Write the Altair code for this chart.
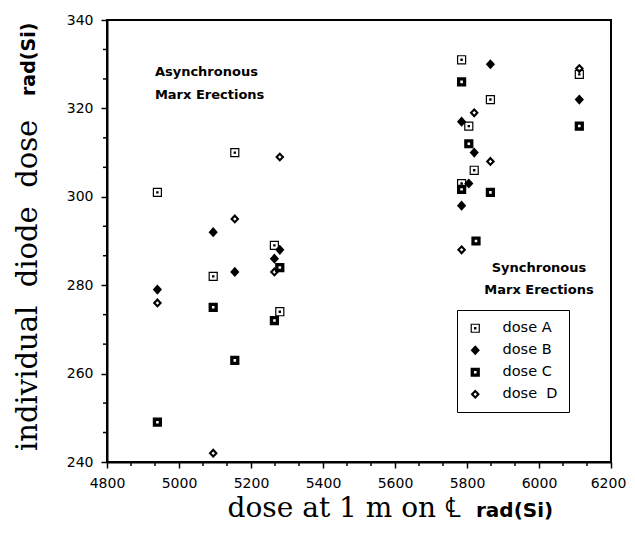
import altair as alt
import pandas as pd

# ---- data ----
doseA_x = [4940, 5095, 5155, 5265, 5280, 5785, 5865, 5805, 5820, 5785, 6112]
doseA_y = [301, 282, 310, 289, 274, 331, 322, 316, 306, 303, 327.7]
doseB_x = [4940, 5095, 5155, 5280, 5265, 5865, 5785, 5820, 5805, 5785, 6112]
doseB_y = [279, 292, 283, 288, 286, 330, 317, 310, 303, 298, 322]
doseC_x = [4940, 5095, 5155, 5280, 5265, 5785, 5805, 5785, 5865, 5825, 6112]
doseC_y = [249, 275, 263, 284, 272, 326, 312, 301.7, 301, 290, 316]
doseD_x = [4940, 5095, 5155, 5280, 5265, 5820, 5865, 5785, 6112]
doseD_y = [276, 242, 295, 309, 283, 319, 308, 288, 329]

series_names = ["dose A", "dose B", "dose C", "dose\u00a0 D"]

x_major = [4800, 5000, 5200, 5400, 5600, 5800, 6000, 6200]
y_major = [240, 260, 280, 300, 320, 340]
x_minor = [v + d for v in x_major[:-1] for d in (200 / 3, 400 / 3)]
y_minor = [v + d for v in y_major[:-1] for d in (20 / 3, 40 / 3)]

notes_text = ["Asynchronous", "Marx Erections", "Synchronous", "Marx Erections"]
notes_x = [4933, 4933, 6000, 6000]
notes_y = [328.2, 323.0, 284.0, 279.0]
notes_align = ["left", "left", "center", "center"]

# ---- build table ----
rows = []
for name, xs, ys in zip(series_names,
                        [doseA_x, doseB_x, doseC_x, doseD_x],
                        [doseA_y, doseB_y, doseC_y, doseD_y]):
    for a, b in zip(xs, ys):
        rows.append({"dose": name, "x": a, "y": b})
df = pd.DataFrame(rows)
notes = pd.DataFrame({"t": notes_text, "x": notes_x, "y": notes_y, "al": notes_align})
xm = pd.DataFrame({"v": x_minor})
ym = pd.DataFrame({"v": y_minor})

# custom symbol paths (unit square [-1,1])
shapeA = "M-1,-1H1V1H-1Z M-0.74,-0.74V0.74H0.74V-0.74Z M-0.26,-0.26H0.26V0.26H-0.26Z"
shapeB = "M0,-1.1L1,0L0,1.1L-1,0Z"
shapeC = "M-1,-1H1V1H-1Z M-0.28,-0.28V0.28H0.28V-0.28Z"
shapeD = "M0,-1.05L1,0L0,1.05L-1,0Z M0,-0.38L-0.38,0L0,0.38L0.38,0Z"

xscale = alt.Scale(domain=[4800, 6200], nice=False, zero=False)
yscale = alt.Scale(domain=[240, 340], nice=False, zero=False)

x_axis = alt.Axis(values=x_major, format="d", tickSize=6, labelPadding=8,
                  labelOffset={"condition": {"test": "datum.value >= 6200", "value": -3}, "value": 0},
                  labelOverlap=False, labelFlush=False, grid=False, title="")
y_axis = alt.Axis(values=y_major, format="d", tickSize=6, labelPadding=8,
                  labelOverlap=False, labelFlush=False, grid=False, title="")

points = alt.Chart(df).mark_point(filled=True, opacity=1, size=85, strokeWidth=0).encode(
    x=alt.X("x:Q", scale=xscale, axis=x_axis),
    y=alt.Y("y:Q", scale=yscale, axis=y_axis),
    shape=alt.Shape("dose:N",
                    scale=alt.Scale(domain=series_names, range=[shapeA, shapeB, shapeC, shapeD]),
                    legend=alt.Legend(title=None, orient="none", legendX=350, legendY=290,
                                      strokeColor="black", padding=11, labelFont="DejaVu Sans",
                                      labelFontSize=14.5, labelColor="black", symbolSize=85,
                                      symbolFillColor="black", symbolStrokeWidth=0,
                                      labelOffset=20, rowPadding=7)),
    color=alt.value("black"),
)

xminor_marks = alt.Chart(xm).mark_rule(color="black", strokeWidth=1.5).encode(
    x=alt.X("v:Q", scale=xscale), y=alt.value(442), y2=alt.value(446))
yminor_marks = alt.Chart(ym).mark_rule(color="black", strokeWidth=1.5).encode(
    y=alt.Y("v:Q", scale=yscale), x=alt.value(0), x2=alt.value(-4))

note_left = alt.Chart(notes[notes.al == "left"]).mark_text(
    font="DejaVu Sans", fontWeight="bold", fontSize=13, baseline="middle", align="left",
    color="black").encode(x=alt.X("x:Q", scale=xscale), y=alt.Y("y:Q", scale=yscale), text="t:N")
note_center = alt.Chart(notes[notes.al == "center"]).mark_text(
    font="DejaVu Sans", fontWeight="bold", fontSize=13, baseline="middle", align="center",
    color="black").encode(x=alt.X("x:Q", scale=xscale), y=alt.Y("y:Q", scale=yscale), text="t:N")

one = pd.DataFrame({"k": [0]})
xt1 = alt.Chart(one).mark_text(font="DejaVu Serif", fontSize=28, align="right",
                               baseline="alphabetic", color="black").encode(
    x=alt.value(354), y=alt.value(497), text=alt.value("dose at 1 m on \u2104"))
xt2 = alt.Chart(one).mark_text(font="DejaVu Sans", fontWeight="bold", fontSize=20, align="left",
                               baseline="alphabetic", color="black").encode(
    x=alt.value(369), y=alt.value(497), text=alt.value("rad(Si)"))
yt1 = alt.Chart(one).mark_text(font="DejaVu Serif", fontSize=29, align="left",
                               baseline="alphabetic", angle=270, color="black").encode(
    x=alt.value(-70), y=alt.value(431),
    text=alt.value("individual\u00a0 diode\u00a0 dose"))
yt2 = alt.Chart(one).mark_text(font="DejaVu Sans", fontWeight="bold", fontSize=19, align="left",
                               baseline="alphabetic", angle=270, color="black").encode(
    x=alt.value(-72), y=alt.value(76), text=alt.value("rad(Si)"))

chart = alt.layer(points, xminor_marks, yminor_marks, note_left, note_center,
                  xt1, xt2, yt1, yt2).properties(
    width=504, height=442,
    autosize=alt.AutoSizeParams(type="none"),
    padding={"left": 99, "top": 12, "right": 16, "bottom": 62},
).configure_view(stroke="black", strokeWidth=2).configure_axis(
    domainColor="black", domainWidth=2, tickColor="black", tickWidth=1.5,
    labelColor="black", labelFont="DejaVu Sans", labelFontSize=14,
)

chart.save("out.html", embed_options={"renderer": "svg", "actions": False})
